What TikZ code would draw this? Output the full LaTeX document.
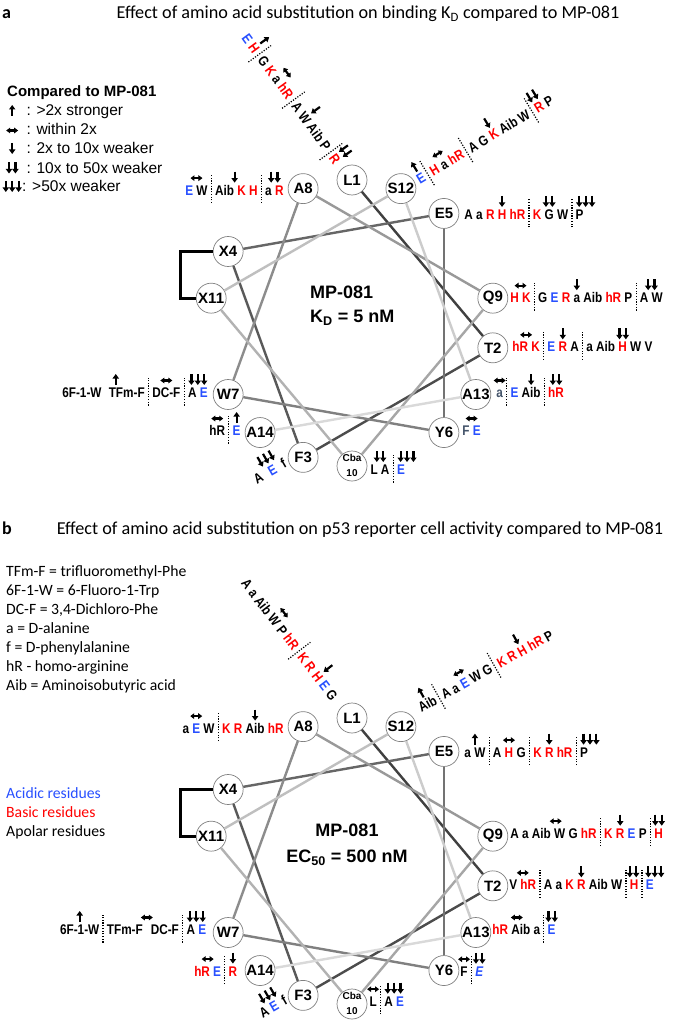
\documentclass[tikz,border=0pt]{standalone}
\usepackage{fontspec}
\setmainfont{Liberation Sans}
\newfontfamily\resfont[FakeStretch=0.84]{Liberation Sans}
\newfontfamily\calfont{Carlito}
\usepackage{xcolor}
\usetikzlibrary{arrows.meta}

\definecolor{acidblue}{RGB}{40,80,255}
\definecolor{basicred}{RGB}{255,0,0}
\definecolor{slate}{RGB}{68,84,106}

\newcommand{\acid}[1]{\textcolor{acidblue}{#1}}
\newcommand{\basic}[1]{\textcolor{basicred}{#1}}
\newcommand{\grey}[1]{\textcolor{slate}{#1}}

\tikzset{
  mkarrow/.style={line width=2.2pt, -{Triangle[length=4.5pt,width=6.2pt]}},
  lrarrow/.style={line width=2.2pt, {Triangle[length=4pt,width=5.6pt]}-{Triangle[length=4pt,width=5.6pt]}},
  sepline/.style={line width=1.2pt, dash pattern=on 1.2pt off 1.5pt}
}

% effect markers
\newcommand{\upA}{\tikz[baseline=0pt]\draw[mkarrow] (0pt,0pt) -- (0pt,11pt);}
\newcommand{\dnA}{\tikz[baseline=0pt]\draw[mkarrow] (0pt,11pt) -- (0pt,0pt);}
\newcommand{\lrA}{\tikz[baseline=0pt]\draw[lrarrow] (0pt,4.5pt) -- (12pt,4.5pt);}
\newcommand{\dnB}{\dnA\kern0.2pt\dnA}
\newcommand{\dnC}{\dnA\kern0.2pt\dnA\kern0.2pt\dnA}
\newcommand{\dsep}{\hspace{3.2pt}\tikz[baseline=0pt]\draw[sepline] (0pt,-8pt) -- (0pt,20pt);\hspace{3.2pt}}

% marker over a residue (optional shift)
\newsavebox\mkbox
\newcommand{\mk}[3][0]{\sbox\mkbox{#3}\leavevmode\rlap{\hbox to\wd\mkbox{\hss\kern#1pt\kern#1pt\raisebox{12.5pt}{#2}\hss}}\usebox\mkbox}

\newcommand{\cbalab}{\fontsize{10}{15}\selectfont\begin{tabular}{@{}c@{}}Cba\\10\end{tabular}}

\begin{document}
\begin{tikzpicture}[x=1pt, y=-1pt,
  res/.style={circle, draw=black!50, line width=0.7pt, fill=white, minimum size=30pt, inner sep=0pt},
  reslab/.style={inner sep=0pt, font=\bfseries\fontsize{15}{15}\selectfont},
  helix/.style={line width=2.4pt},
  bracket/.style={line width=2.8pt},
  resrow/.style={inner sep=0pt, font=\resfont\bfseries\fontsize{14}{14}\selectfont},
  rowR/.style={resrow, anchor=base west},
  rowL/.style={resrow, anchor=base east},
  rowT/.style={resrow, anchor=base},
  core/.style={inner sep=0pt, font=\bfseries\fontsize{18}{24}\selectfont},
  headline/.style={inner sep=0pt, anchor=base, font=\calfont\fontsize{18.2}{20}\selectfont},
  panel/.style={inner sep=0pt, anchor=base west, font=\calfont\bfseries\fontsize{18}{20}\selectfont},
  legtitle/.style={inner sep=0pt, anchor=base west, font=\bfseries\fontsize{15}{17}\selectfont},
  legitem/.style={inner sep=0pt, anchor=base west, font=\fontsize{15.5}{17}\selectfont},
  abbr/.style={inner sep=0pt, anchor=base west, font=\calfont\fontsize{15.7}{18}\selectfont}]

\path[use as bounding box, fill=white] (0,0) rectangle (675,1024);

% titles
\node[panel] (labA) at (2,19) {a};
\node[headline] (titleA) at (368,19) {Effect of amino acid substitution on binding K\textsubscript{D} compared to MP-081};
\node[panel] (labB) at (2,534) {b};
\node[headline] (titleB) at (360,534) {Effect of amino acid substitution on p53 reporter cell activity compared to MP-081};

% legend a
\node[legtitle] (legHead) at (7,97) {Compared to MP-081};
\node[legitem] (legUp) at (2,116) {\makebox[20pt]{\upA} : >2x stronger};
\node[legitem] (legSame) at (2,135) {\makebox[20pt]{\lrA} : within 2x};
\node[legitem] (legDn1) at (2,154) {\makebox[20pt]{\dnA} : 2x to 10x weaker};
\node[legitem] (legDn2) at (2,173.5) {\makebox[20pt]{\dnB} : 10x to 50x weaker};
\node[legitem] (legDn3) at (2,192) {\makebox[20pt]{\dnC}: >50x weaker};

% legend b
\foreach \txt [count=\i from 0] in {TFm-F = trifluoromethyl-Phe, 6F-1-W = 6-Fluoro-1-Trp, {DC-F = 3,4-Dichloro-Phe}, a = D-alanine, f = D-phenylalanine, hR - homo-arginine, Aib = Aminoisobutyric acid}
  \node[abbr] (abbr\i) at (6,{576+19*\i}) {\txt};
\node[abbr, text=acidblue] (keyAcid) at (6,798) {Acidic residues};
\node[abbr, text=basicred] (keyBasic) at (6,817) {Basic residues};
\node[abbr] (keyApolar) at (6,836) {Apolar residues};

% helical wheels
\foreach \pn/\oy in {a/0,b/538}{
  \foreach \rname/\lbl [count=\i from 0] in {L1/L1,T2/T2,F3/F3,X4/X4,E5/E5,Y6/Y6,W7/W7,A8/A8,Q9/Q9,C10/\cbalab,X11/X11,S12/S12,A13/A13,A14/A14}
    \node[res, label={[reslab]center:\lbl}] (\pn\rname) at ({352+143*cos(90-100*\i)},{323+\oy-143*sin(90-100*\i)}) {};
  \foreach \u/\v [count=\k] in {L1/T2,T2/F3,F3/X4,X4/E5,E5/Y6,Y6/W7,W7/A8,A8/Q9,Q9/C10,C10/X11,X11/S12,S12/A13,A13/A14}{
    \pgfmathtruncatemacro\shade{80-5*\k}
    \draw[helix, black!\shade] (\pn\u) -- (\pn\v);
  }
  \draw[bracket] (\pn X4.west) -- ++(-32,0) |- (\pn X11.west);
}

\node[core, align=left, anchor=west] (coreA) at (310,306) {MP-081\\K\textsubscript{D} = 5 nM};
\node[core, align=center, font=\bfseries\fontsize{18}{26.5}\selectfont] (coreB) at (347,844.5) {MP-081\\EC\textsubscript{50} = 500 nM};

% substitutions, panel a
\node[rowL] (aA8row) at ([xshift=-4,yshift=-6.5]aA8.west) {\mk{\lrA}{\acid{E} W}\dsep Aib \mk[-7]{\dnA}{\basic{K}} \basic{H}\dsep\mk{\dnB}{a \basic{R}}};
\node[rowR] (aE5row) at ([xshift=5,yshift=-6]aE5.east) {A a \basic{R} \mk{\dnA}{\basic{H}} \basic{hR}\dsep\basic{K} \mk{\dnB}{G} W\dsep\mk[6]{\dnC}{P}};
\node[rowR] (aQ9row) at ([xshift=2,yshift=-4.5]aQ9.east) {\mk{\lrA}{\basic{H K}}\dsep G \acid{E} \basic{R} \mk{\dnA}{a} Aib \basic{hR} P\dsep\mk{\dnB}{A W}};
\node[rowR] (aT2row) at ([xshift=4,yshift=-4]aT2.east) {\mk{\lrA}{\basic{hR K}}\dsep\acid{E} \mk{\dnA}{\basic{R}} A\dsep a Aib \mk{\dnB}{\basic{H}} W V};
\node[rowR] (aA13row) at ([xshift=5,yshift=-3]aA13.east) {\mk{\lrA}{\grey{a}}\dsep\acid{E} \mk{\dnA}{Aib}\dsep\mk{\dnB}{\basic{hR}}};
\node[rowR] (aY6row) at ([xshift=3,yshift=-3]aY6.east) {\mk{\lrA}{\grey{F} \acid{E}}};
\node[rowR] (aC10row) at ([xshift=3,yshift=-8.5]aC10.east) {\mk{\dnB}{L A}\dsep\mk[6]{\dnC}{\acid{E}}};
\node[rowL] (aW7row) at ([xshift=-5,yshift=-3]aW7.west) {6F-1-W\hspace{4pt} \mk[-11]{\upA}{TFm-F}\dsep\mk{\lrA}{DC-F}\dsep\mk{\dnC}{A \acid{E}}};
\node[rowL] (aA14row) at ([xshift=-4,yshift=-3]aA14.west) {\mk{\lrA}{hR}\dsep\mk{\upA}{\acid{E}}};
\node[rowT, rotate=-54] (aL1row) at (287.2,101.8) {\acid{E} \mk{\upA}{\basic{H}}\dsep G \basic{K} \mk{\lrA}{a} \basic{hR}\dsep A \mk{\dnA}{W} Aib P\dsep\mk{\dnB}{\basic{R}}};
\node[rowT, rotate=31] (aS12row) at (487.4,143.9) {\mk{\upA}{\acid{E}}\dsep\basic{H} \mk{\lrA}{a} \basic{hR}\dsep A G \mk{\dnA}{\basic{K}} Aib W\dsep\mk{\dnB}{\basic{R}} P};
\node[rowT, rotate=30] (aF3row) at (272.3,475.6) {A\hspace{8pt}\mk{\dnC}{\acid{E}}\hspace{7pt}f};

% substitutions, panel b
\node[rowL] (bA8row) at ([xshift=-4,yshift=-6.5]bA8.west) {a \mk{\lrA}{\acid{E}} W\dsep\basic{K} \basic{R} \mk{\dnA}{Aib} \basic{hR}};
\node[rowR] (bE5row) at ([xshift=5,yshift=-5.7]bE5.east) {\mk{\upA}{a W}\dsep A \mk{\lrA}{\basic{H}} G\dsep\basic{K} \mk{\dnA}{\basic{R}} \basic{hR}\dsep\mk[6]{\dnC}{P}};
\node[rowR] (bQ9row) at ([xshift=2,yshift=-2]bQ9.east) {A a Aib \mk[-4]{\lrA}{W} G \basic{hR}\dsep\basic{K} \mk{\dnA}{\basic{R}} \acid{E} P\dsep\mk{\dnB}{\basic{H}}};
\node[rowR] (bT2row) at ([xshift=1,yshift=-4]bT2.east) {\mk{\lrA}{V \basic{hR}}\dsep A a \basic{K} \mk{\dnA}{\basic{R}} Aib W\dsep\mk[-1]{\dnB}{\basic{H}}\dsep\mk[5]{\dnC}{\acid{E}}};
\node[rowR] (bA13row) at ([xshift=1,yshift=-2]bA13.east) {\basic{hR} \mk[-4]{\lrA}{Aib} a\dsep\mk{\dnB}{\acid{E}}};
\node[rowR] (bY6row) at ([xshift=1,yshift=-5.7]bY6.east) {\mk{\lrA}{F}\dsep\mk{\dnB}{\acid{\itshape E}}};
\node[rowR] (bC10row) at ([xshift=2,yshift=-2.2]bC10.east) {\mk{\lrA}{L}\dsep\mk{\dnC}{A \acid{E}}};
\node[rowL] (bW7row) at ([xshift=-6.5,yshift=-2]bW7.west) {\mk{\upA}{6F-1-W}\dsep TFm-F\mk{\lrA}{\hspace{8pt}}DC-F\dsep\mk{\dnC}{A \acid{E}}};
\node[rowL] (bA14row) at ([xshift=-7.4,yshift=-5.5]bA14.west) {\mk{\lrA}{\basic{hR} \acid{E}}\dsep\mk{\dnA}{\basic{R}}};
\node[rowT, rotate=-52.6] (bL1row) at (285.6,642.7) {A a Aib \mk{\lrA}{W} P \basic{hR}\dsep\basic{K} \basic{R} \mk{\dnA}{\basic{H}} \acid{E} G};
\node[rowT, rotate=29.3] (bS12row) at (488,675.6) {\mk{\upA}{Aib}\dsep A a \mk{\lrA}{\acid{E}} W G\dsep\basic{K} \basic{R} \mk{\dnA}{\basic{H}} \basic{hR} P};
\node[rowT, rotate=30] (bF3row) at (275.6,1011.4) {A \mk{\dnC}{\acid{E}}\hspace{6pt}f};

\end{tikzpicture}
\end{document}
